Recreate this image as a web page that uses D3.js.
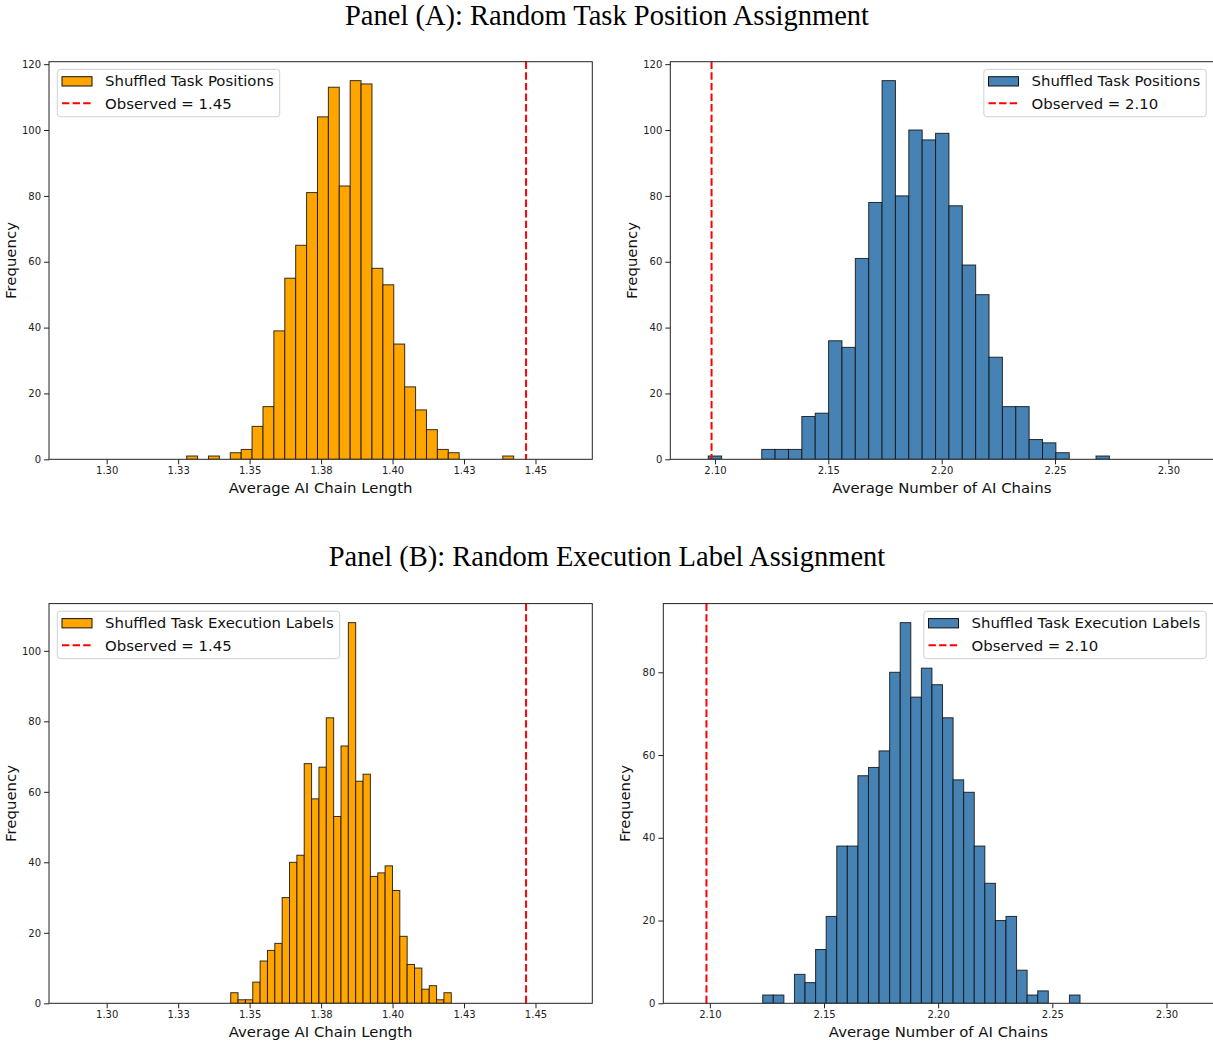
<!DOCTYPE html>
<html>
<head>
<meta charset="utf-8">
<script src="https://cdn.jsdelivr.net/npm/d3@7"></script>
<style>
  html, body { margin: 0; padding: 0; background: #fff; }
  svg { display: block; }
</style>
</head>
<body>
<svg id="chart" width="1213" height="1045"></svg>
<script>
// Permutation-test histograms (1000 shuffles each), 30 equal-width bins per panel.

// Panel A, left: average AI chain length under shuffled task positions
const chainLenPosBins = [1.32798, 1.44237];
const chainLenPosCounts = [1, 0, 1, 0, 2, 3, 10, 16, 39, 55, 65, 81, 104, 113, 83, 115, 114, 58, 53, 35, 22, 15, 9, 3, 2, 0, 0, 0, 0, 1];

// Panel A, right: average number of AI chains under shuffled task positions
const chainNumPosBins = [2.09704, 2.27397];
const chainNumPosCounts = [1, 0, 0, 0, 3, 3, 3, 13, 14, 36, 34, 61, 78, 115, 80, 100, 97, 99, 77, 59, 50, 31, 16, 16, 6, 5, 2, 0, 0, 1];

// Panel B, left: average AI chain length under shuffled execution labels
const chainLenLabBins = [1.34338, 1.42054];
const chainLenLabCounts = [3, 1, 1, 6, 12, 15, 17, 30, 40, 42, 68, 58, 67, 81, 53, 73, 108, 63, 65, 36, 37, 39, 32, 19, 11, 10, 4, 5, 1, 3];

// Panel B, right: average number of AI chains under shuffled execution labels
const chainNumLabBins = [2.12315, 2.26213];
const chainNumLabCounts = [2, 2, 0, 7, 5, 13, 21, 38, 38, 55, 57, 61, 80, 92, 74, 81, 77, 69, 54, 51, 38, 29, 20, 21, 8, 2, 3, 0, 0, 2];

// Observed statistics
const observedChainLength = 1.4467;
const observedChainCount = 2.0985;

// Axis ranges and tick labels
const chainLenDomain = [1.27982, 1.46987];
const chainLenTicks = [1.300, 1.325, 1.350, 1.375, 1.400, 1.425, 1.450];
const chainLenTickLabels = ["1.30", "1.33", "1.35", "1.38", "1.40", "1.43", "1.45"];
const chainNumPosDomain = [2.0803, 2.3199];
const chainNumLabDomain = [2.0796, 2.3206];
const chainNumTicks = [2.10, 2.15, 2.20, 2.25, 2.30];
const chainNumTickLabels = ["2.10", "2.15", "2.20", "2.25", "2.30"];
const yTicksA = [0, 20, 40, 60, 80, 100, 120];
const yTicksBLeft = [0, 20, 40, 60, 80, 100];
const yTicksBRight = [0, 20, 40, 60, 80];

const panelTitles = ["Panel (A): Random Task Position Assignment", "Panel (B): Random Execution Label Assignment"];
const xLabelLength = "Average AI Chain Length";
const xLabelCount = "Average Number of AI Chains";
const yLabel = "Frequency";

const ORANGE = "#ffa500";
const STEEL = "#4682b4";

const svg = d3.select("#chart");
const SANS = "'DejaVu Sans', sans-serif";
const SERIF = "'Liberation Serif', 'DejaVu Serif', serif";
const LABEL_SIZE = 14.9;

svg.append("text")
  .attr("x", 607).attr("y", 25)
  .attr("text-anchor", "middle")
  .attr("font-family", SERIF)
  .attr("font-size", 28.5)
  .attr("fill", "#000")
  .text(panelTitles[0]);

svg.append("text")
  .attr("x", 607).attr("y", 566)
  .attr("text-anchor", "middle")
  .attr("font-family", SERIF)
  .attr("font-size", 28.5)
  .attr("fill", "#000")
  .text(panelTitles[1]);

function drawPanel(cfg) {
  const { left, right, top, bottom } = cfg.box;
  const x = d3.scaleLinear().domain(cfg.xDomain).range([left, right]);
  const yMax = d3.max(cfg.counts) * 1.05;
  const y = d3.scaleLinear().domain([0, yMax]).range([bottom, top]);

  const g = svg.append("g");
  const clipId = "clip-" + cfg.id;
  svg.append("clipPath").attr("id", clipId)
    .append("rect").attr("x", left).attr("y", top)
    .attr("width", right - left).attr("height", bottom - top);

  // histogram bins
  const n = cfg.counts.length;
  const w = (cfg.bins[1] - cfg.bins[0]) / n;
  const binData = cfg.counts.map((c, i) => ({
    x0: cfg.bins[0] + i * w,
    x1: cfg.bins[0] + (i + 1) * w,
    count: c
  })).filter(d => d.count > 0);

  g.append("g").attr("clip-path", `url(#${clipId})`)
    .selectAll("rect")
    .data(binData)
    .join("rect")
    .attr("x", d => x(d.x0))
    .attr("width", d => x(d.x1) - x(d.x0))
    .attr("y", d => y(d.count))
    .attr("height", d => y(0) - y(d.count))
    .attr("fill", cfg.color)
    .attr("stroke", "#111")
    .attr("stroke-opacity", 0.85)
    .attr("stroke-width", 1);

  // observed value
  g.append("line")
    .attr("x1", x(cfg.observed)).attr("x2", x(cfg.observed))
    .attr("y1", top).attr("y2", bottom)
    .attr("stroke", "#ff0000")
    .attr("stroke-width", 2)
    .attr("stroke-dasharray", "7.4,3.2");

  // frame
  g.append("rect")
    .attr("x", left).attr("y", top)
    .attr("width", right - left).attr("height", bottom - top)
    .attr("fill", "none")
    .attr("stroke", "#222")
    .attr("stroke-width", 1);

  // axes
  const xAxis = d3.axisBottom(x)
    .tickValues(cfg.xTicks)
    .tickFormat((d, i) => cfg.xTickLabels[i])
    .tickSize(5).tickPadding(3);
  const xg = g.append("g").attr("transform", `translate(0,${bottom})`).call(xAxis);

  const yAxis = d3.axisLeft(y)
    .tickValues(cfg.yTicks)
    .tickFormat(d3.format("d"))
    .tickSize(5).tickPadding(3);
  const yg = g.append("g").attr("transform", `translate(${left},0)`).call(yAxis);

  [xg, yg].forEach(a => {
    a.select(".domain").remove();
    a.selectAll(".tick line").attr("stroke", "#222").attr("stroke-width", 1);
    a.selectAll(".tick text")
      .attr("font-family", SANS)
      .attr("font-size", 10)
      .attr("fill", "#222");
  });

  // axis labels
  g.append("text")
    .attr("x", (left + right) / 2).attr("y", bottom + 34)
    .attr("text-anchor", "middle")
    .attr("font-family", SANS).attr("font-size", LABEL_SIZE)
    .attr("fill", "#111")
    .text(cfg.xLabel);

  g.append("text")
    .attr("transform", `translate(${left - 33},${(top + bottom) / 2}) rotate(-90)`)
    .attr("text-anchor", "middle")
    .attr("font-family", SANS).attr("font-size", LABEL_SIZE)
    .attr("fill", "#111")
    .text(yLabel);

  // legend
  const leg = g.append("g");
  const box = leg.append("rect")
    .attr("rx", 3).attr("ry", 3)
    .attr("fill", "#fff").attr("fill-opacity", 0.8)
    .attr("stroke", "#d0d0d0").attr("stroke-width", 1);
  const t1 = leg.append("text")
    .attr("x", 47.7).attr("y", 17.2)
    .attr("font-family", SANS).attr("font-size", LABEL_SIZE)
    .attr("fill", "#111")
    .text(cfg.legendLabel);
  leg.append("text")
    .attr("x", 47.7).attr("y", 39.5)
    .attr("font-family", SANS).attr("font-size", LABEL_SIZE)
    .attr("fill", "#111")
    .text("Observed = " + d3.format(".2f")(cfg.observed));
  leg.append("rect")
    .attr("x", 4.7).attr("y", 7.4)
    .attr("width", 30).attr("height", 9.3)
    .attr("fill", cfg.color)
    .attr("stroke", "#111").attr("stroke-width", 1);
  leg.append("line")
    .attr("x1", 4.7).attr("x2", 34.7)
    .attr("y1", 34).attr("y2", 34)
    .attr("stroke", "#ff0000").attr("stroke-width", 2)
    .attr("stroke-dasharray", "7.4,3.2");

  const boxW = 47.7 + t1.node().getComputedTextLength() + 6;
  const boxH = 47.4;
  box.attr("width", boxW).attr("height", boxH);
  const lx = cfg.legendSide === "left" ? left + 8.3 : right - 7.3 - boxW;
  leg.attr("transform", `translate(${lx},${top + 7.6})`);
}

drawPanel({
  id: "al", box: { left: 49, right: 592.3, top: 61.7, bottom: 459.3 },
  xDomain: chainLenDomain, xTicks: chainLenTicks, xTickLabels: chainLenTickLabels,
  yTicks: yTicksA, bins: chainLenPosBins, counts: chainLenPosCounts,
  color: ORANGE, observed: observedChainLength, xLabel: xLabelLength,
  legendLabel: "Shuffled Task Positions", legendSide: "left"
});

drawPanel({
  id: "ar", box: { left: 670.3, right: 1213.5, top: 61.7, bottom: 459.3 },
  xDomain: chainNumPosDomain, xTicks: chainNumTicks, xTickLabels: chainNumTickLabels,
  yTicks: yTicksA, bins: chainNumPosBins, counts: chainNumPosCounts,
  color: STEEL, observed: observedChainCount, xLabel: xLabelCount,
  legendLabel: "Shuffled Task Positions", legendSide: "right"
});

drawPanel({
  id: "bl", box: { left: 49, right: 592.3, top: 603.6, bottom: 1003.3 },
  xDomain: chainLenDomain, xTicks: chainLenTicks, xTickLabels: chainLenTickLabels,
  yTicks: yTicksBLeft, bins: chainLenLabBins, counts: chainLenLabCounts,
  color: ORANGE, observed: observedChainLength, xLabel: xLabelLength,
  legendLabel: "Shuffled Task Execution Labels", legendSide: "left"
});

drawPanel({
  id: "br", box: { left: 663.3, right: 1213.5, top: 603.6, bottom: 1003.3 },
  xDomain: chainNumLabDomain, xTicks: chainNumTicks, xTickLabels: chainNumTickLabels,
  yTicks: yTicksBRight, bins: chainNumLabBins, counts: chainNumLabCounts,
  color: STEEL, observed: observedChainCount, xLabel: xLabelCount,
  legendLabel: "Shuffled Task Execution Labels", legendSide: "right"
});
</script>
</body>
</html>
